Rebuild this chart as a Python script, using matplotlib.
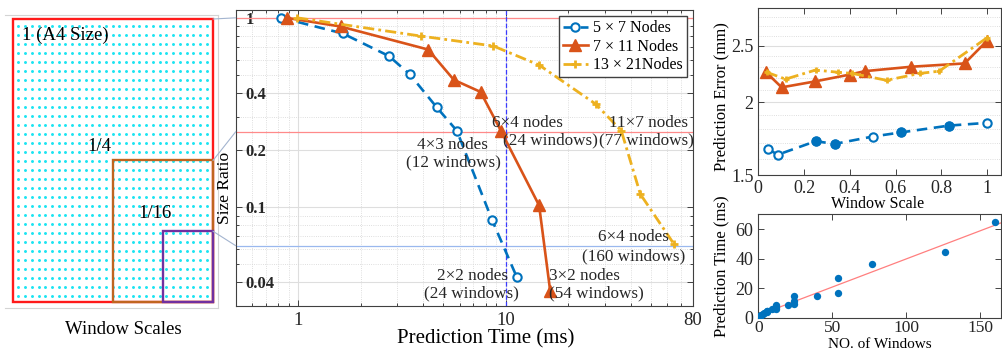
import matplotlib
matplotlib.use('Agg')
import matplotlib.pyplot as plt
import numpy as np
from matplotlib.patches import Rectangle, ConnectionPatch
from matplotlib.ticker import FixedLocator, NullFormatter

plt.rcParams['font.family'] = ['Liberation Serif', 'DejaVu Serif']

# colours (MATLAB default order)
C_BLUE = '#0072BD'
C_ORANGE = '#D95319'
C_YELLOW = '#EDB120'

# left sketch: A4 sheet in mm and the sampled node grid
A4_W, A4_H = 210, 297
SCALES = [1, 1/4, 1/16]
SCALE_LABELS = ['1 (A4 Size)', '1/4', '1/16']
SCALE_COLORS = ['#ff1a1a', '#c0651f', '#7030a0']
N_COLS, N_ROWS = 29, 31

# middle: prediction time (ms) vs size ratio
LABELS = ['5 \u00d7 7 Nodes', '7 \u00d7 11 Nodes', '13 \u00d7 21Nodes']
blue_time = [0.83, 1.64, 2.74, 3.45, 4.66, 5.82, 8.62, 11.3]
blue_ratio = [1.0, 0.827, 0.628, 0.503, 0.336, 0.253, 0.085, 0.0428]
orange_time = [0.88, 1.60, 4.23, 5.63, 7.57, 9.49, 14.5, 16.4]
orange_ratio = [1.0, 0.90, 0.68, 0.47, 0.406, 0.253, 0.102, 0.036]
yellow_time = [0.99, 3.93, 8.72, 14.5, 27.2, 36.1, 44.6, 64.6]
yellow_ratio = [1.0, 0.80, 0.71, 0.563, 0.35, 0.253, 0.117, 0.064]

# number of windows for each of the points above
blue_windows = [1, 2, 3, 4, 6, 12, 20, 24]
orange_windows = [1, 2, 6, 9, 12, 24, 40, 54]
yellow_windows = [1, 6, 12, 24, 54, 77, 126, 160]

# top right: prediction error (mm) vs window scale
blue_scale = [0.041, 0.085, 0.25, 0.334, 0.5, 0.625, 0.833, 1.0]
blue_err = [1.663, 1.625, 1.714, 1.696, 1.746, 1.775, 1.823, 1.843]
blue_filled = [False, False, True, True, False, True, True, False]
orange_scale = [0.034, 0.102, 0.247, 0.40, 0.465, 0.669, 0.901, 1.0]
orange_err = [2.25, 2.12, 2.17, 2.23, 2.26, 2.30, 2.33, 2.55]
yellow_scale = [0.037, 0.119, 0.25, 0.35, 0.41, 0.56, 0.705, 0.79, 1.0]
yellow_err = [2.25, 2.19, 2.27, 2.25, 2.24, 2.18, 2.24, 2.26, 2.58]

# annotations in the middle panel (text, axes fraction x, y)
NOTES = [
    ('4\u00d73 nodes', 0.475, 0.544), ('(12 windows)', 0.476, 0.485),
    ('6\u00d74 nodes', 0.639, 0.617), ('(24 windows)', 0.689, 0.558),
    ('11\u00d77 nodes', 0.902, 0.617), ('(77 windows)', 0.899, 0.558),
    ('2\u00d72 nodes', 0.518, 0.102), ('(24 windows)', 0.516, 0.043),
    ('3\u00d72 nodes', 0.762, 0.101), ('(54 windows)', 0.788, 0.041),
    ('6\u00d74 nodes', 0.869, 0.232), ('(160 windows)', 0.870, 0.169),
]

W, H = 1003, 351
fig = plt.figure(figsize=(W / 100, H / 100), dpi=100)


def px_axes(l, t, r, b):
    return fig.add_axes([l / W, 1 - b / H, (r - l) / W, (b - t) / H])


def matlab_box(ax, color='#404040'):
    for s in ax.spines.values():
        s.set_color(color)
        s.set_linewidth(0.8)
    ax.tick_params(which='both', direction='in', top=True, right=True,
                   colors='#262626', width=0.6)
    ax.tick_params(which='major', length=4)
    ax.tick_params(which='minor', length=2)


# ---------------- left sketch ----------------
ax0 = px_axes(5, 15, 218, 308)
ax0.set_xlim(-8.4, 215.25)
ax0.set_ylim(-6.3, 301.2)
ax0.set_xticks([])
ax0.set_yticks([])
for k, s in ax0.spines.items():
    s.set_color('#d4d4d4')
    s.set_linewidth(0.8)
ax0.spines['left'].set_visible(False)

gx, gy = np.meshgrid(np.linspace(5.6, A4_W - 6.6, N_COLS),
                     np.linspace(6.7, A4_H - 7.3, N_ROWS))
ax0.scatter(gx.ravel(), gy.ravel(), s=4.5, color='#1ce4f2', lw=0, zorder=1)
for sc, col in zip(SCALES, SCALE_COLORS):
    f = np.sqrt(sc)
    ax0.add_patch(Rectangle((A4_W * (1 - f), 0), A4_W * f, A4_H * f,
                            fill=False, ec=col, lw=1.7, zorder=3))
ax0.text(9, 280, SCALE_LABELS[0], ha='left', va='center', fontsize=13.5)
ax0.text(91, 163, SCALE_LABELS[1], ha='center', va='center', fontsize=13.5)
ax0.text(149, 93, SCALE_LABELS[2], ha='center', va='center', fontsize=13.5)
fig.text(123 / W, 1 - 330 / H, 'Window Scales', ha='center', va='center',
         fontsize=13.5)

# ---------------- middle: size ratio vs time ----------------
ax1 = px_axes(235.7, 10, 693, 306)
ax1.set_xscale('log')
ax1.set_yscale('log')
ax1.axhline(1, color='#ff8a8a', lw=0.9, zorder=1)
ax1.axhline(SCALES[1], color='#ff8a8a', lw=0.9, zorder=1)
ax1.axhline(SCALES[2], color='#9ab8ee', lw=0.9, zorder=1)
ax1.axvline(10, color='#3b3bff', ls='--', lw=0.9, zorder=1)

ax1.plot(blue_time, blue_ratio, color=C_BLUE, ls=(0, (4, 2.5)), lw=1.9,
         marker='o', ms=6, mfc='white', mew=1.5, label=LABELS[0], zorder=3)
ax1.plot(orange_time, orange_ratio, color=C_ORANGE, ls='-', lw=1.9,
         marker='^', ms=8, label=LABELS[1], zorder=3)
ax1.plot(yellow_time, yellow_ratio, color=C_YELLOW, ls=(0, (4, 1.5, 1, 1.5)),
         lw=2, marker='+', ms=6, mew=2, label=LABELS[2], zorder=3)

for txt, fx, fy in NOTES:
    ax1.text(fx, fy, txt, transform=ax1.transAxes, ha='center', va='center',
             fontsize=12.3, color='#262626')

ax1.set_xlim(0.5, 80)
ax1.set_ylim(0.03, 1.1)
ax1.set_xticks([1, 10, 80])
ax1.set_xticklabels(['1', '10', '80'], fontsize=13.5)
ax1.set_yticks([0.04, 0.1, 0.2, 0.4, 1])
ax1.set_yticklabels(['0.04', '0.1', '0.2', '0.4', '1'], fontsize=12,
                    fontweight='bold')
ax1.xaxis.set_minor_formatter(NullFormatter())
ax1.yaxis.set_minor_formatter(NullFormatter())
matlab_box(ax1)
ax1.tick_params(axis='y', which='major', pad=-7)
for lab in ax1.get_yticklabels():
    lab.set_ha('left')
ax1.tick_params(axis='x', which='major', pad=4)
ax1.grid(which='major', color='#dedede', lw=0.8, ls='-')
ax1.grid(which='minor', color='#d4d4d4', lw=0.6, ls=':')
ax1.set_axisbelow(True)
ax1.set_xlabel('Prediction Time (ms)', fontsize=15)
ax1.xaxis.set_label_coords(0.546, -0.078)
ax1.set_ylabel('Size Ratio', fontsize=12.5)
ax1.yaxis.set_label_coords(-0.006, 0.40)
ax1.legend(loc='upper right', fontsize=11.5, fancybox=False, edgecolor='#404040',
           framealpha=1, handlelength=1.6, borderpad=0.25, labelspacing=0.15,
           handletextpad=0.3, borderaxespad=0.4)

# connector lines from the sketch to the size-ratio axis
for sc in SCALES:
    f = np.sqrt(sc)
    con = ConnectionPatch(xyA=(A4_W, A4_H * f), coordsA='data', axesA=ax0,
                          xyB=(0, sc), coordsB=ax1.get_yaxis_transform(),
                          axesB=ax1, color='#a3b4cf', lw=0.8)
    fig.add_artist(con)

# ---------------- top right: prediction error ----------------
ax2 = px_axes(758.3, 8, 1001, 175)
ax2.set_yscale('log')
ax2.plot(blue_scale, blue_err, color=C_BLUE, ls=(0, (4, 2.5)), lw=1.9,
         marker='o', ms=6, mfc='white', mew=1.5, zorder=3)
bf = np.array(blue_filled)
ax2.plot(np.array(blue_scale)[bf], np.array(blue_err)[bf], ls='none',
         marker='o', ms=6, color=C_BLUE, zorder=4)
ax2.plot(orange_scale, orange_err, color=C_ORANGE, ls='-', lw=1.9,
         marker='^', ms=8, zorder=3)
ax2.plot(yellow_scale, yellow_err, color=C_YELLOW, ls=(0, (4, 1.5, 1, 1.5)),
         lw=2, marker='+', ms=5, mew=2, zorder=3)
ax2.set_xlim(0, 1.06)
ax2.set_ylim(1.5, 2.9)
ax2.yaxis.set_major_locator(FixedLocator([1.5, 2, 2.5]))
ax2.yaxis.set_minor_locator(FixedLocator(np.arange(1.6, 2.95, 0.1)))
ax2.set_yticklabels(['1.5', '2', '2.5'], fontsize=13)
ax2.yaxis.set_minor_formatter(NullFormatter())
ax2.set_xticks(np.arange(0, 1.01, 0.2))
ax2.set_xticklabels(['0', '0.2', '0.4', '0.6', '0.8', '1'], fontsize=13)
matlab_box(ax2)
ax2.tick_params(axis='y', which='minor', length=0)
ax2.grid(axis='y', which='major', color='#dedede', lw=0.8, ls='-')
ax2.grid(axis='y', which='minor', color='#d4d4d4', lw=0.6, ls=':')
ax2.set_axisbelow(True)
ax2.set_xlabel('Window Scale', fontsize=11.5)
ax2.xaxis.set_label_coords(0.49, -0.125)
ax2.set_ylabel('Prediction Error (mm)', fontsize=12)
ax2.yaxis.set_label_coords(-0.118, 0.47)

# ---------------- bottom right: time vs number of windows ----------------
ax3 = px_axes(758.3, 214.3, 1001, 317.7)
all_windows = np.array(blue_windows + orange_windows + yellow_windows)
all_time = np.array(blue_time + orange_time + yellow_time)
ax3.scatter(all_windows, all_time, s=28, color=C_BLUE, lw=0, zorder=3)
slope, icpt = np.polyfit(all_windows, all_time, 1)
xf = np.array([0, 164])
ax3.plot(xf, slope * xf + icpt, color='#ff7f7f', lw=0.9, zorder=2)
ax3.set_xlim(0, 164)
ax3.set_ylim(0, 70)
ax3.set_xticks([0, 50, 100, 150])
ax3.set_yticks([0, 20, 40, 60])
ax3.tick_params(labelsize=13)
matlab_box(ax3)
ax3.tick_params(axis='x', which='major', pad=2, labelsize=12.5)
ax3.set_xlabel('NO. of Windows', fontsize=11)
ax3.xaxis.set_label_coords(0.5, -0.2)
ax3.set_ylabel('Prediction Time (ms)', fontsize=12)
ax3.yaxis.set_label_coords(-0.118, 0.5)

fig.savefig('out.png', dpi=100)
